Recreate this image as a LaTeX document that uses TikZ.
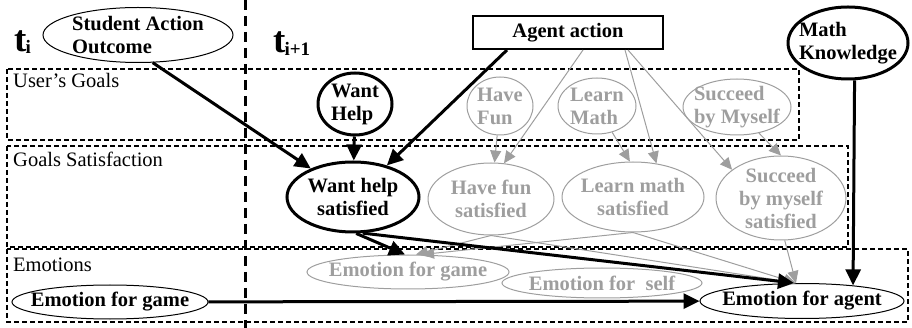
\documentclass[tikz,border=0pt]{standalone}
\usepackage{fontspec}
\setmainfont{Liberation Serif}
\usepackage{tikz}
\usetikzlibrary{shapes.geometric,arrows.meta}
\definecolor{faded}{RGB}{158,158,158}
\tikzstyle{mylane} = [draw=black, line width=1.4pt, dash pattern=on 5pt off 3pt]
\tikzstyle{timeline} = [draw=black, line width=3pt, dash pattern=on 10pt off 6pt]
\tikzstyle{lanetitle} = [anchor=base west, inner sep=0pt, font=\fontsize{20.5}{23}\selectfont]
\tikzstyle{chance} = [ellipse, draw=black, line width=1pt, inner sep=-25pt,
    align=center, font=\fontsize{20.5}{23}\selectfont\bfseries]
\tikzstyle{keychance} = [chance, line width=3pt]
\tikzstyle{fadedchance} = [chance, draw=faded, text=faded]
\tikzstyle{myarrow} = [line width=3pt, -{Triangle[length=16pt,width=15pt]}]
\tikzstyle{fadedarrow} = [draw=faded, line width=1pt, -{Triangle[length=12pt,width=11pt]}, faded]

\begin{document}
\begin{tikzpicture}[x=1pt,y=-1pt]
\useasboundingbox (0,0) rectangle (912,328);
% lanes and time slice
\draw[mylane] (7,69) rectangle (799,140);
\draw[mylane] (7,146) rectangle (848,247);
\draw[mylane] (7,249) rectangle (908,322);
\draw[timeline] (245,0) -- (245,328);
\node[lanetitle] (goalsT) at (13,88) {User's Goals};
\node[lanetitle] (satT) at (13,167) {Goals Satisfaction};
\node[lanetitle] (emoT) at (13,272) {Emotions};
\node[anchor=base west, inner sep=0pt] (ti) at (14,52)
    {\fontsize{37}{37}\selectfont\bfseries t\kern-1pt\raisebox{-2pt}{\fontsize{19}{19}\selectfont i}};
\node[anchor=base west, inner sep=0pt] (tnext) at (273,53)
    {\fontsize{37}{37}\selectfont\bfseries t\kern-1pt\raisebox{-3pt}{\fontsize{19}{19}\selectfont i+1}};

% time slice i
\node[chance, align=left, minimum width=190pt, minimum height=55pt] (sao) at (138,35) {Student Action\\Outcome};
\node[chance, minimum width=196pt, minimum height=34pt] (egb) at (110,302) {Emotion for game};

% time slice i+1
\node[draw=black, line width=2pt, inner sep=0pt, minimum width=190pt, minimum height=33pt,
    font=\fontsize{20.5}{23}\selectfont\bfseries] (aa) at (568,32.5) {Agent action};
\node[keychance, align=left, minimum width=120pt, minimum height=72pt] (mk) at (848,43) {Math\\Knowledge};
\node[keychance, align=left, minimum width=74pt, minimum height=62pt] (wh) at (355,104) {Want\\Help};
\node[fadedchance, align=left, minimum width=66pt, minimum height=58pt] (hf) at (500,106) {Have\\Fun};
\node[fadedchance, align=left, minimum width=78pt, minimum height=56pt] (lm) at (597,106) {Learn\\Math};
\node[fadedchance, align=left, minimum width=108pt, minimum height=56pt] (sm) at (737,107) {Succeed\\by Myself};
\node[keychance, minimum width=132pt, minimum height=70pt] (whs) at (353,197) {Want help\\satisfied};
\node[fadedchance, minimum width=126pt, minimum height=72pt] (hfs) at (491,199) {Have fun\\satisfied};
\node[fadedchance, minimum width=142pt, minimum height=70pt] (lms) at (633,197) {Learn math\\satisfied};
\node[fadedchance, minimum width=130pt, minimum height=84pt] (sms) at (781,198) {Succeed\\by myself\\satisfied};
\node[fadedchance, minimum width=202pt, minimum height=34pt] (egame) at (408,272) {Emotion for game};
\node[fadedchance, minimum width=200pt, minimum height=30pt] (eself) at (602,283) {Emotion for\ \ self};
\node[chance, minimum width=204pt, minimum height=35pt] (eagent) at (802,301) {Emotion for agent};

% links
\draw[fadedarrow] ([xshift=15pt]aa.south) -- (hfs.70);
\draw[fadedarrow] ([xshift=57pt]aa.south) -- (lms.55);
\draw[fadedarrow] ([xshift=60pt]aa.south) -- (sms.150);
\draw[fadedarrow] (hf) -- (hfs);
\draw[fadedarrow] (lm.-60) -- (lms.95);
\draw[fadedarrow] (sm.-50) -- (sms.north);
\draw[fadedarrow] (hfs.south) -- ([xshift=8pt]egame.north);
\draw[fadedarrow] (lms.south) -- ([xshift=14pt]egame.north);
\draw[fadedarrow] (hfs.south) -- ([xshift=-6pt]eagent.north);
\draw[fadedarrow] (lms.south) -- ([xshift=-6pt]eagent.north);
\draw[fadedarrow] (sms.-85) -- ([xshift=-6pt]eagent.north);
\draw[myarrow] (sao.-62) -- (whs.146);
\draw[myarrow] (wh) -- (whs);
\draw[myarrow] ([xshift=-61pt]aa.south) -- (whs.43);
\draw[myarrow] (whs.-85) -- ([xshift=-3pt]egame.north);
\draw[myarrow] (whs.-75) -- ([xshift=-8pt]eagent.north);
\draw[myarrow] (mk.-80) -- (eagent.17);
\draw[myarrow] (egb) -- (eagent);
\end{tikzpicture}
\end{document}
